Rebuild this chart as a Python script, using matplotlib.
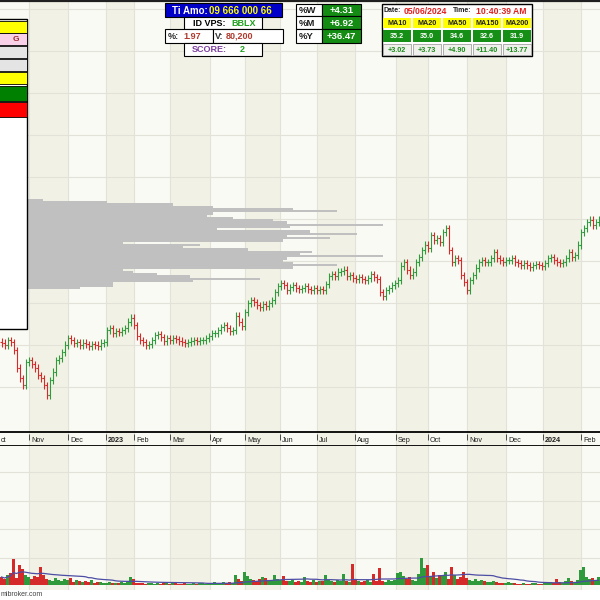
import numpy as np
import pandas as pd
import matplotlib
matplotlib.use('Agg')
import matplotlib.pyplot as plt
from matplotlib.patches import Rectangle

plt.rcParams['font.family'] = ['Liberation Sans', 'DejaVu Sans']

# --- values (one bar ~ 2 trading days) ---
close = [
    23.76, 23.60, 24.00, 23.84, 23.20, 21.76, 20.96, 20.40, 22.24, 22.40,
    22.08, 21.76, 21.20, 20.96, 20.40, 19.60, 20.80, 21.44, 22.40, 22.56,
    23.04, 23.60, 24.16, 24.00, 23.76, 23.84, 23.60, 23.76, 23.68, 23.52,
    23.68, 23.60, 23.52, 23.76, 23.84, 24.80, 24.96, 24.56, 24.72, 24.64,
    24.80, 24.96, 25.44, 25.76, 25.20, 24.32, 24.00, 23.84, 23.60, 23.68,
    24.00, 24.40, 24.48, 24.24, 23.92, 24.16, 24.00, 24.16, 24.08, 23.92,
    23.84, 23.76, 23.84, 23.92, 24.00, 23.92, 24.00, 24.00, 24.16, 24.32,
    24.56, 24.56, 24.80, 25.04, 25.20, 24.96, 24.72, 24.80, 25.92, 25.44,
    25.12, 26.24, 26.96, 27.20, 27.04, 26.80, 26.64, 26.88, 26.72, 26.96,
    27.20, 27.84, 28.32, 28.56, 28.40, 28.00, 28.24, 28.40, 28.16, 28.08,
    28.16, 28.32, 28.08, 28.00, 28.16, 28.00, 28.08, 28.00, 28.48, 29.12,
    29.28, 29.12, 29.44, 29.52, 29.60, 29.12, 29.20, 28.96, 28.88, 29.04,
    28.88, 28.80, 28.96, 29.28, 29.04, 28.88, 27.84, 27.52, 28.00, 28.16,
    28.40, 28.56, 28.80, 29.92, 30.24, 29.60, 29.20, 29.44, 30.24, 30.64,
    31.20, 31.60, 31.36, 32.40, 32.00, 32.16, 31.84, 32.64, 32.96, 31.20,
    30.24, 30.56, 30.40, 29.20, 28.64, 28.00, 28.80, 29.20, 29.76, 30.24,
    30.40, 30.24, 30.24, 30.56, 31.04, 30.56, 30.40, 30.24, 30.40, 30.40,
    30.56, 30.24, 30.16, 30.00, 30.16, 30.00, 29.84, 30.00, 30.08, 30.00,
    29.92, 30.16, 30.56, 30.64, 30.40, 30.24, 30.16, 30.24, 30.56, 31.04,
    30.64, 30.80, 31.60, 32.64, 32.96, 33.44, 33.60, 33.20, 33.44, 33.60,
]

# volume, thousand shares
volume = [
    80, 60, 100, 120, 260, 70, 200, 160, 100, 80,
    60, 90, 80, 180, 100, 60, 50, 40, 70, 50,
    40, 60, 50, 70, 30, 50, 40, 30, 40, 30,
    50, 20, 30, 30, 20, 20, 30, 20, 20, 20,
    30, 20, 40, 80, 60, 20, 20, 20, 10, 20,
    20, 10, 20, 10, 20, 20, 10, 20, 20, 10,
    10, 20, 10, 10, 20, 10, 20, 20, 10, 20,
    20, 30, 20, 20, 30, 20, 30, 20, 100, 60,
    40, 130, 90, 60, 50, 40, 60, 80, 70, 50,
    40, 100, 60, 50, 90, 40, 40, 50, 30, 40,
    30, 80, 40, 30, 50, 30, 40, 40, 100, 50,
    40, 30, 50, 40, 110, 40, 30, 210, 50, 40,
    30, 40, 50, 30, 110, 40, 170, 40, 30, 50,
    40, 50, 120, 130, 90, 60, 80, 50, 40, 110,
    270, 170, 200, 90, 130, 70, 100, 90, 130, 60,
    180, 100, 60, 80, 130, 70, 50, 40, 60, 40,
    50, 40, 30, 30, 40, 30, 20, 20, 20, 30,
    20, 20, 10, 10, 20, 10, 10, 20, 20, 10,
    10, 20, 20, 30, 20, 60, 30, 20, 40, 70,
    40, 30, 50, 150, 180, 80, 60, 70, 50, 80,
]

# first label is the tail of "Oct", cut by the screenshot edge
month_labels = ['ct', 'Nov', 'Dec', '2023', 'Feb', 'Mar', 'Apr', 'May', 'Jun',
                'Jul', 'Aug', 'Sep', 'Oct', 'Nov', 'Dec', '2024', 'Feb']
month_start = [-1.0, 9.2, 22.2, 34.8, 44.2, 56.2, 69.5, 81.2, 92.8,
               105.2, 117.8, 131.5, 142.2, 155.2, 168.2, 180.5, 193.2]

# volume-at-price profile (relative), top row to bottom row
profile_vol = [43, 107, 173, 213, 293, 337, 213, 207, 233, 273,
               287, 383, 290, 217, 310, 357, 287, 330, 283, 123,
               200, 183, 248, 312, 300, 383, 287, 283, 293, 337,
               293, 123, 133, 157, 190, 260, 193, 113, 113, 80]
profile_top, profile_bottom = 35.2, 28.18

ma_names = ['MA10', 'MA20', 'MA50', 'MA150', 'MA200']
ma_values = ['35.2', '35.0', '34.6', '32.6', '31.9']
ma_diff = ['+3.02', '+3.73', '+4.90', '+11.40', '+13.77']
perf_names = ['%W', '%M', '%Y']
perf_values = ['+4.31', '+6.92', '+36.47']

GREEN = '#2f9a3c'
RED = '#d42a2a'
BAND_DARK = '#f2f1e5'
BAND_LIGHT = '#fafaf4'
GRID = '#e2e2d8'

n = len(close)
x = np.arange(n)
c = np.array(close)
o = np.r_[c[0] + 0.1, c[:-1]]
up = c >= o
cols = np.where(up, GREEN, RED)
wick = 0.28
hi = np.maximum(o, c) + wick
lo = np.minimum(o, c) - wick

fig = plt.figure(figsize=(6, 6), dpi=100)
fig.patch.set_facecolor('white')

ax = fig.add_axes([0, 168 / 600, 1, 430 / 600])
ax_d = fig.add_axes([0, 154 / 600, 1, 14 / 600])
ax_v = fig.add_axes([0, 10 / 600, 1, 144 / 600])

edges = month_start + [n + 5]


def shade(a):
    for k in range(len(month_start)):
        a.axvspan(edges[k], edges[k + 1], color=BAND_DARK if k % 2 else BAND_LIGHT,
                  lw=0, zorder=0)
    for m in month_start[1:]:
        a.axvline(m, color=GRID, lw=0.8, zorder=0.5)


for a in (ax, ax_d, ax_v):
    a.set_xlim(-0.5, n - 0.5)
    shade(a)
    a.set_xticks([])
    a.tick_params(length=0, labelleft=False, labelbottom=False)
    for s in a.spines.values():
        s.set_visible(False)

# price panel
ax.set_ylim(16.64, 51.04)
ax.set_yticks(np.arange(20.24, 51, 3.36))
ax.grid(axis='y', color=GRID, lw=0.8, zorder=0.5)
ax.set_axisbelow(True)

levels = np.linspace(profile_top, profile_bottom, len(profile_vol))
ax.barh(levels, np.array(profile_vol) / 3.0, height=0.19, left=-0.5,
        color='#c0c0c0', lw=0, zorder=1)

ax.vlines(x, lo, hi, colors=cols, lw=0.8, zorder=3)
ax.hlines(o, x - 0.45, x, colors=cols, lw=0.8, zorder=3)
ax.hlines(c, x, x + 0.45, colors=cols, lw=0.8, zorder=3)

# date strip
ax_d.set_ylim(0, 1)
ax_d.spines['top'].set_visible(True)
ax_d.spines['bottom'].set_visible(True)
ax_d.spines['top'].set_linewidth(1.3)
ax_d.spines['bottom'].set_linewidth(1.3)
for lab, pos in zip(month_labels, month_start):
    if pos > 0:
        ax_d.vlines(pos, 0.45, 0.85, color='#303030', lw=0.6)
    ax_d.text(pos + 0.6, 0.42, lab, fontsize=5.2, va='center', ha='left',
              color='#202020', fontweight='bold' if lab.isdigit() else 'normal')

# volume panel
ax_v.set_ylim(-50, 1390)
ax_v.set_yticks(np.arange(270, 1300, 287))
ax_v.grid(axis='y', color=GRID, lw=0.8, zorder=0.5)
ax_v.set_axisbelow(True)
ax_v.bar(x, volume, width=0.75, color=cols, lw=0, zorder=2)
vol_ma = pd.Series(volume, dtype=float).rolling(25, min_periods=1).mean()
ax_v.plot(x, vol_ma, color='#4d4da6', lw=0.9, zorder=3)

# overlay for the boxes (pixel coordinates)
ov = fig.add_axes([0, 0, 1, 1])
ov.set_xlim(0, 600)
ov.set_ylim(600, 0)
ov.axis('off')
ov.patch.set_alpha(0)


def box(x0, y0, x1, y1, fc, ec='black', lw=0.8):
    ov.add_patch(Rectangle((x0, y0), x1 - x0, y1 - y0, facecolor=fc,
                           edgecolor=ec, lw=lw))


def txt(xp, yp, s, color, size=7, ha='left'):
    ov.text(xp, yp, s, color=color, fontsize=size, fontweight='bold',
            ha=ha, va='center')


ov.plot([0, 600], [0.8, 0.8], color='#202020', lw=1.6)

# left info box
box(-2, 19, 27, 329, 'white', lw=1.0)
for y0, y1, fc in [(21, 33, '#ffff00'), (33, 45, '#f8d0e8'), (46, 58, '#e4e4e4'),
                   (59, 71, '#e4e4e4'), (72, 84, '#ffff00'), (86, 101, '#008000'),
                   (102, 117, '#ff0000')]:
    box(-2, y0, 27, y1, fc, lw=0.6)
txt(12.5, 39.5, 'G', '#a02828', size=6)

# middle boxes
box(165, 3, 282, 17, '#0000c8')
txt(172, 10.5, 'Ti Amo:', 'white')
txt(209, 10.5, '09 666 000 66', '#ffff00')
box(184, 17, 262, 29, 'white')
txt(193, 23.5, 'ID VPS:', 'black', 6.5)
txt(231, 23.5, 'BBLX', '#20a020', 6.5)
box(165, 29, 213, 43, 'white')
txt(168, 36.5, '%:', '#303030', 6.5)
txt(183, 36.5, '1.97', '#b03a2e', 6.5)
box(213, 29, 283, 43, 'white')
txt(215, 36.5, 'V:', '#303030', 6.5)
txt(226, 36.5, '80,200', '#b03a2e', 6.5)
box(184, 43, 262, 56, 'white')
txt(192, 50, 'SCORE:', '#7d3fa0', 6.5)
txt(240, 50, '2', '#20a020', 6.5)

# weekly / monthly / yearly change
rows = [(4, 16), (16, 29), (29, 43)]
for (y0, y1), lab, val in zip(rows, perf_names, perf_values):
    box(296, y0, 322, y1, 'white')
    box(322, y0, 361, y1, '#148c14')
    txt(298.5, (y0 + y1) / 2 + 0.5, lab, '#202020', 6.8)
    txt(341.5, (y0 + y1) / 2 + 0.5, val, 'white', 6.8, ha='center')

# date / moving-average table
box(382, 4, 532, 56, 'white', lw=1.0)
txt(384, 11, 'Date:', '#202020', 5)
txt(404, 11, '05/06/2024', '#e02020', 6.2)
txt(453, 11, 'Time:', '#202020', 5)
txt(476, 11, '10:40:39 AM', '#e02020', 6.2)
col_edges = [382, 412, 442, 472, 502, 532]
for k in range(5):
    x0, x1 = col_edges[k] + 1, col_edges[k + 1] - 1
    xm = (col_edges[k] + col_edges[k + 1]) / 2
    ov.add_patch(Rectangle((x0, 18), x1 - x0, 10, facecolor='#ffff00', lw=0))
    ov.add_patch(Rectangle((x0, 30), x1 - x0, 12, facecolor='#168f16', lw=0))
    ov.add_patch(Rectangle((x0, 44), x1 - x0, 11, facecolor='#f0f0ec',
                           edgecolor='#909090', lw=0.5))
    txt(xm, 23.5, ma_names[k], '#202020', 5.2, ha='center')
    txt(xm, 36.5, ma_values[k], 'white', 5.2, ha='center')
    txt(xm, 50, ma_diff[k], '#1a8a1a', 5.2, ha='center')

# tail of the "amibroker.com" watermark, cut by the screenshot edge
ov.text(0.5, 595, 'mibroker.com', fontsize=5, color='#404040', va='center',
        ha='left')

fig.savefig('out.png', dpi=100, facecolor='white')
